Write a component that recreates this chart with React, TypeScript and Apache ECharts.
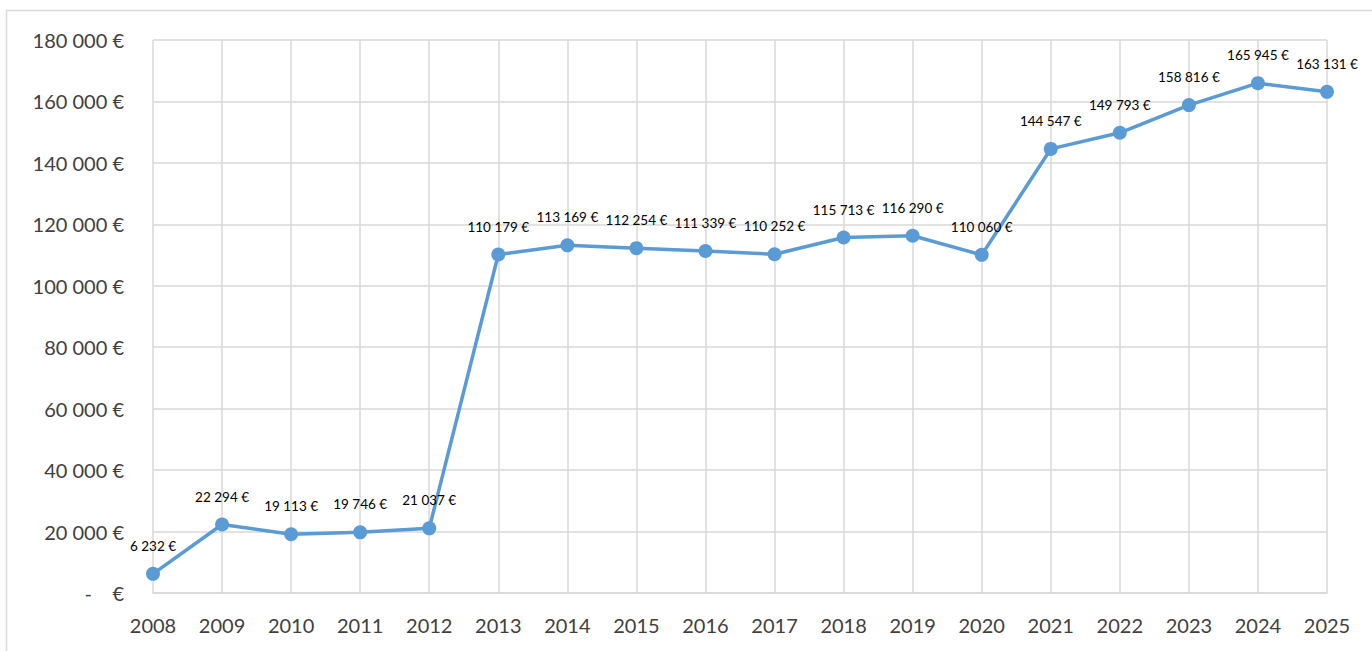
import React, { useEffect, useRef } from "react";
import * as echarts from "echarts";

const years = ["2008","2009","2010","2011","2012","2013","2014","2015","2016","2017","2018","2019","2020","2021","2022","2023","2024","2025"];
const values = [6232, 22294, 19113, 19746, 21037, 110179, 113169, 112254, 111339, 110252, 115713, 116290, 110060, 144547, 149793, 158816, 165945, 163131];

const fmt = (v: number) => String(Math.round(v)).replace(/\B(?=(\d{3})+(?!\d))/g, " ") + " €";

export default function App() {
  const ref = useRef<HTMLDivElement>(null);
  useEffect(() => {
    if (!ref.current) return;
    const chart = echarts.init(ref.current, null, { renderer: "svg" });
    chart.setOption({
      animation: false,
      backgroundColor: "#ffffff",
      graphic: [
        {
          type: "rect",
          shape: { x: 6.5, y: 10.5, width: 1400, height: 700 },
          style: { fill: "none", stroke: "#d9d9d9", lineWidth: 1.5 },
          silent: true,
        },
      ],
      grid: { left: 153, right: 45, top: 40, bottom: 58, containLabel: false },
      xAxis: {
        type: "category",
        data: years,
        boundaryGap: false,
        axisLine: { show: true, lineStyle: { color: "#d9d9d9", width: 1.5 } },
        axisTick: { show: false },
        splitLine: { show: true, lineStyle: { color: "#d9d9d9", width: 1.5 } },
        axisLabel: { color: "#404040", fontSize: 20, fontFamily: "Lato, 'Open Sans', sans-serif", margin: 22 },
      },
      yAxis: {
        type: "value",
        min: 0,
        max: 180000,
        interval: 20000,
        axisLine: { show: false },
        axisTick: { show: false },
        splitLine: { show: true, lineStyle: { color: "#d9d9d9", width: 1.5 } },
        axisLabel: {
          color: "#404040",
          fontSize: 20,
          fontFamily: "Lato, 'Open Sans', sans-serif",
          margin: 29,
          formatter: (v: number) => (v === 0 ? "-    €" : fmt(v)),
        },
      },
      series: [
        {
          type: "line",
          data: values,
          symbol: "circle",
          symbolSize: 14,
          lineStyle: { color: "#5b9bd5", width: 3.5 },
          itemStyle: { color: "#5b9bd5" },
          label: {
            show: true,
            position: "top",
            distance: 14,
            color: "#000000",
            fontSize: 13.5,
            fontFamily: "Lato, 'Open Sans', sans-serif",
            formatter: (p: any) => fmt(p.value),
          },
        },
      ],
    });
    return () => chart.dispose();
  }, []);
  return (
    <div
      ref={ref}
      style={{ position: "absolute", left: 0, top: 0, width: 1372, height: 651 }}
    />
  );
}
